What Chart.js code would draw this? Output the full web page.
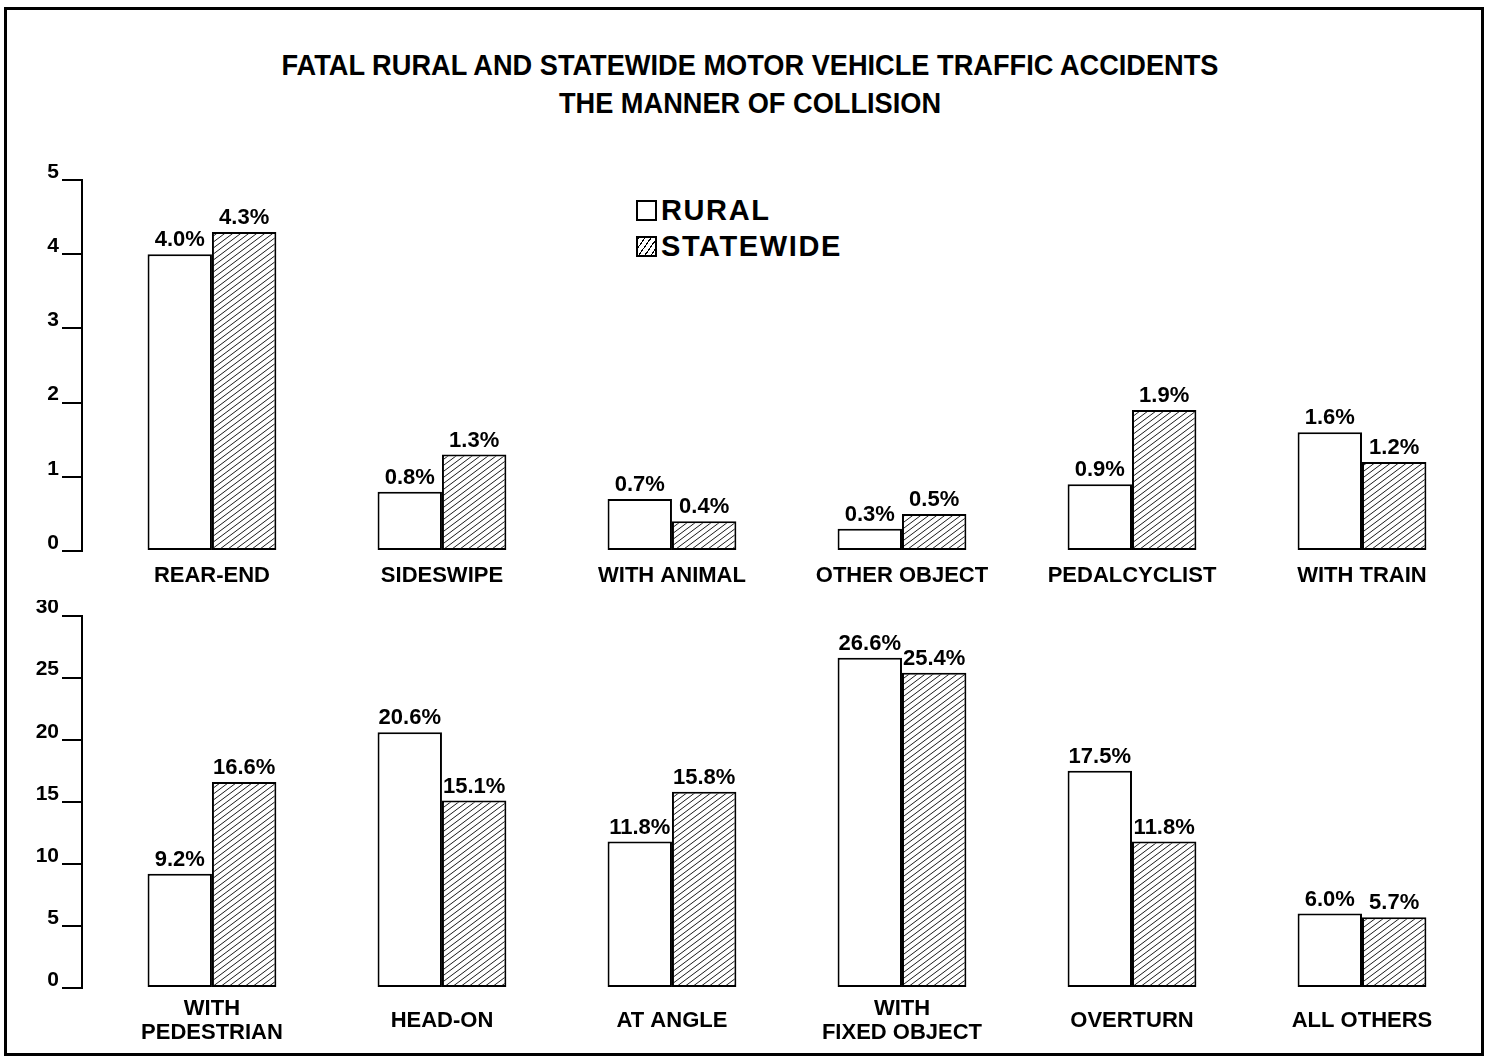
<!DOCTYPE html>
<html>
<head>
<meta charset="utf-8">
<script src="https://cdn.jsdelivr.net/npm/chart.js@4.4.1/dist/chart.umd.min.js"></script>
<style>
html, body { margin: 0; padding: 0; background: #fff; width: 1491px; height: 1059px; overflow: hidden; }
body { position: relative; font-family: "Liberation Sans", Arial, sans-serif; }
#frame { position: absolute; left: 4px; top: 7px; width: 1474px; height: 1043px; border: 3px solid #000; }
#title { position: absolute; left: 0; top: 46px; width: 1500px; text-align: center; font-weight: bold;
         font-size: 29px; line-height: 38px; font-family: "Liberation Sans Narrow", "Liberation Sans", Arial, sans-serif; }
#title div { transform-origin: center; }
#legend { position: absolute; left: 636px; top: 192px; font-weight: bold; font-size: 29px; letter-spacing: 1.6px; }
#legend .item { height: 36px; line-height: 36px; display: flex; align-items: center; }
#legend .box { display: inline-block; width: 17px; height: 17px; border: 2px solid #000; margin-right: 4px; background: #fff; }
#legend .hatch { background: repeating-linear-gradient(125deg, #000 0 1.1px, #fff 1.1px 5px); }
canvas { position: absolute; left: 0; }
#top { top: 0; }
#bottom { top: 600px; }
</style>
</head>
<body>
<div id="frame"></div>
<div id="title">
  <div id="t1">FATAL RURAL AND STATEWIDE MOTOR VEHICLE TRAFFIC ACCIDENTS</div>
  <div id="t2">THE MANNER OF COLLISION</div>
</div>
<div id="legend">
  <div class="item"><span class="box"></span>RURAL</div>
  <div class="item"><span class="box hatch"></span>STATEWIDE</div>
</div>
<canvas id="top" width="1491" height="600"></canvas>
<canvas id="bottom" width="1491" height="459"></canvas>
<script>
// data
const topCategories = ['REAR-END', 'SIDESWIPE', 'WITH ANIMAL', 'OTHER OBJECT', 'PEDALCYCLIST', 'WITH TRAIN'];
const topRural = [4.0, 0.8, 0.7, 0.3, 0.9, 1.6];
const topStatewide = [4.3, 1.3, 0.4, 0.5, 1.9, 1.2];
const topTicks = [0, 1, 2, 3, 4, 5];

const bottomCategories = [['WITH', 'PEDESTRIAN'], 'HEAD-ON', 'AT ANGLE', ['WITH', 'FIXED OBJECT'], 'OVERTURN', 'ALL OTHERS'];
const bottomRural = [9.2, 20.6, 11.8, 26.6, 17.5, 6.0];
const bottomStatewide = [16.6, 15.1, 15.8, 25.4, 11.8, 5.7];
const bottomTicks = [0, 5, 10, 15, 20, 25, 30];

// title fit (condensed face in original)
(function () {
  const c = document.createElement('canvas').getContext('2d');
  const fam = getComputedStyle(document.getElementById('title')).fontFamily;
  c.font = 'bold 29px ' + fam;
  const s = 940 / c.measureText(document.getElementById('t1').textContent).width;
  document.getElementById('t1').style.transform = 'scaleX(' + s + ')';
  document.getElementById('t2').style.transform = 'scaleX(' + s + ')';
})();

Chart.defaults.font.family = '"Liberation Sans", Arial, sans-serif';
Chart.defaults.font.weight = 'bold';
Chart.defaults.color = '#000';

// hatch pattern
function hatch() {
  const w = 8, h = 6;
  const c = document.createElement('canvas');
  c.width = w; c.height = h;
  const g = c.getContext('2d');
  g.fillStyle = '#fff';
  g.fillRect(0, 0, w, h);
  g.strokeStyle = '#000';
  g.lineWidth = 0.9;
  for (const [dx, dy] of [[0, 0], [-w, 0], [w, 0], [0, -h], [0, h]]) {
    g.beginPath();
    g.moveTo(dx, h + dy);
    g.lineTo(w + dx, dy);
    g.stroke();
  }
  return g.createPattern(c, 'repeat');
}

const valueLabels = {
  id: 'valueLabels',
  afterDatasetsDraw(chart) {
    const ctx = chart.ctx;
    ctx.save();
    ctx.font = 'bold 22px "Liberation Sans", Arial, sans-serif';
    ctx.fillStyle = '#000';
    ctx.textAlign = 'center';
    ctx.textBaseline = 'bottom';
    chart.data.datasets.forEach((ds, di) => {
      chart.getDatasetMeta(di).data.forEach((bar, i) => {
        ctx.fillText(ds.data[i].y.toFixed(1) + '%', bar.x, bar.y - 3);
      });
    });
    ctx.restore();
  }
};

function makeChart(id, cats, rural, statewide, ticks, padTop, xHeight, xPad) {
  return new Chart(document.getElementById(id), {
    type: 'bar',
    data: {
      datasets: [
        {
          label: 'RURAL',
          data: rural.map((v, i) => ({ x: i, y: v })),
          backgroundColor: '#fff',
          borderColor: '#000',
          borderWidth: 2,
          borderSkipped: false,
          categoryPercentage: 0.56,
          barPercentage: 1
        },
        {
          label: 'STATEWIDE',
          data: statewide.map((v, i) => ({ x: i, y: v })),
          backgroundColor: hatch(),
          borderColor: '#000',
          borderWidth: 2,
          borderSkipped: false,
          categoryPercentage: 0.56,
          barPercentage: 1
        }
      ]
    },
    options: {
      responsive: false,
      animation: false,
      events: [],
      layout: { padding: { left: 0, right: 14, top: padTop, bottom: 0 } },
      plugins: { legend: { display: false }, tooltip: { enabled: false } },
      scales: {
        x: {
          type: 'linear',
          offset: false,
          min: -0.565,
          max: 5.5,
          afterBuildTicks: s => { s.ticks = cats.map((c, i) => ({ value: i })); },
          afterFit: s => { s.height = xHeight; },
          grid: { display: false },
          border: { display: false },
          ticks: {
            callback: v => cats[v],
            font: { size: 22, weight: 'bold', lineHeight: 1.1 },
            padding: xPad,
            maxRotation: 0,
            autoSkip: false,
            crossAlign: 'center'
          }
        },
        y: {
          min: 0,
          max: ticks[ticks.length - 1],
          afterBuildTicks: s => { s.ticks = ticks.map(v => ({ value: v })); },
          afterFit: s => { s.width = 82; },
          grid: { drawOnChartArea: false, color: '#000', lineWidth: 2, tickLength: 20 },
          border: { color: '#000', width: 2 },
          ticks: { font: { size: 21, weight: 'bold' }, padding: 3, labelOffset: -8 }
        }
      }
    },
    plugins: [valueLabels]
  });
}

makeChart('top', topCategories, topRural, topStatewide, topTicks, 180, 49, 17);
makeChart('bottom', bottomCategories, bottomRural, bottomStatewide, bottomTicks, 14, 71, 13);
</script>
</body>
</html>
